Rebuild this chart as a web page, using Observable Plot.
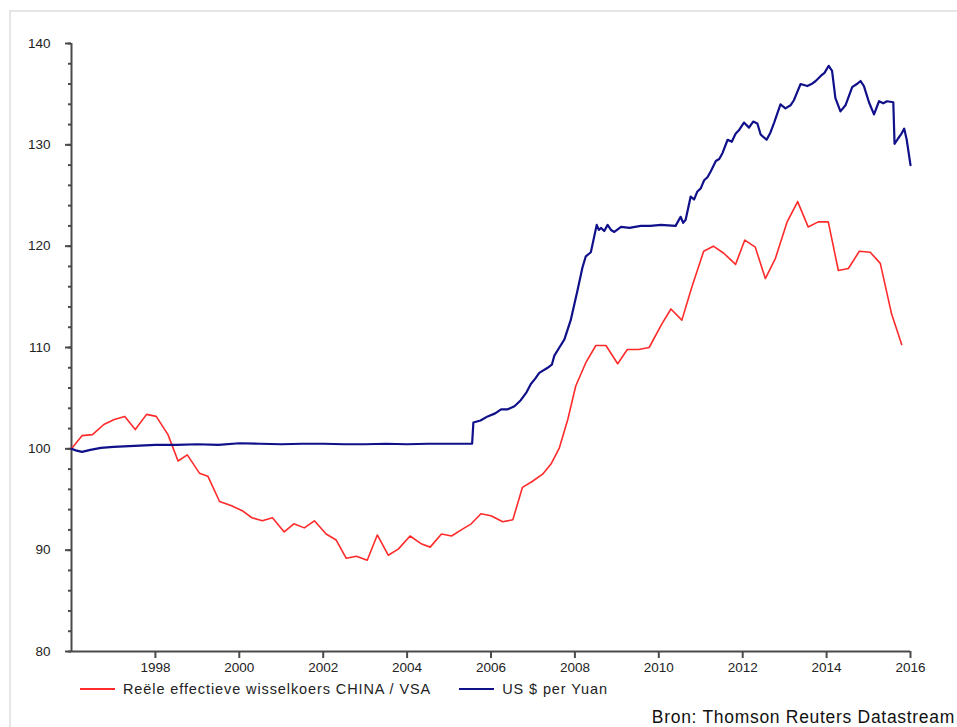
<!DOCTYPE html>
<html>
<head>
<meta charset="utf-8">
<script src="https://cdn.jsdelivr.net/npm/d3@7"></script>
<script src="https://cdn.jsdelivr.net/npm/@observablehq/plot@0.6"></script>
<style>
  html, body { margin: 0; padding: 0; background: #fff; }
  body { width: 957px; height: 727px; position: relative; overflow: hidden; font-family: "Liberation Sans", Arial, sans-serif; }
  #frame { position: absolute; left: 9px; top: 10px; width: 960px; height: 730px; border-top: 2px solid #e6e6e6; border-left: 2px solid #e6e6e6; box-sizing: border-box; }
  #chart { position: absolute; left: 0; top: 0; }
  #legend { position: absolute; top: 681px; left: 80px; font-size: 14.5px; letter-spacing: 0.9px; color: #222; display: flex; align-items: center; white-space: nowrap; }
  .sw { display: inline-block; width: 35px; height: 2px; margin-right: 8px; }
  .item { display: flex; align-items: center; margin-right: 28px; }
  #source { position: absolute; top: 707px; right: 2px; font-size: 17.5px; letter-spacing: 0.7px; color: #111; white-space: nowrap; }
</style>
</head>
<body>
<div id="frame"></div>
<div id="chart"></div>
<div id="legend"></div>
<div id="source">Bron: Thomson Reuters Datastream</div>
<script>
// Series names
const seriesNames = ["Reële effectieve wisselkoers CHINA / VSA", "US $ per Yuan"];
const seriesColors = ["#ff2a2a", "#10108a"];

// Real effective exchange rate China / USA (decimal year, index)
const redYears = [1996.0,1996.25,1996.5,1996.77,1997.02,1997.27,1997.52,1997.79,1998.02,1998.3,1998.54,1998.76,1999.05,1999.25,1999.53,1999.8,2000.07,2000.3,2000.55,2000.79,2001.07,2001.3,2001.55,2001.79,2002.07,2002.31,2002.55,2002.79,2003.05,2003.29,2003.55,2003.79,2004.07,2004.35,2004.55,2004.82,2005.06,2005.29,2005.53,2005.76,2006.0,2006.28,2006.52,2006.75,2006.99,2007.23,2007.43,2007.63,2007.83,2008.02,2008.26,2008.5,2008.74,2009.02,2009.25,2009.52,2009.77,2010.07,2010.29,2010.55,2010.79,2011.07,2011.3,2011.55,2011.83,2012.05,2012.3,2012.54,2012.78,2013.06,2013.31,2013.56,2013.8,2014.04,2014.28,2014.52,2014.78,2015.04,2015.28,2015.55,2015.79];
const redValues = [100.0,101.3,101.4,102.4,102.9,103.2,101.9,103.4,103.2,101.4,98.8,99.4,97.6,97.3,94.8,94.4,93.9,93.2,92.9,93.2,91.8,92.6,92.2,92.9,91.6,91.0,89.2,89.4,89.0,91.5,89.5,90.1,91.4,90.6,90.3,91.6,91.4,92.0,92.6,93.6,93.4,92.8,93.0,96.2,96.8,97.5,98.5,100.1,102.9,106.2,108.5,110.2,110.2,108.4,109.8,109.8,110.0,112.3,113.8,112.7,116.0,119.5,120.0,119.3,118.2,120.6,119.9,116.8,118.8,122.4,124.4,121.9,122.4,122.4,117.6,117.8,119.5,119.4,118.3,113.3,110.3];

// US $ per Yuan (index)
const blueYears = [1996.0,1996.1,1996.25,1996.45,1996.7,1997.0,1997.5,1998.0,1998.5,1999.0,1999.5,2000.0,2000.5,2001.0,2001.5,2002.0,2002.5,2003.0,2003.5,2004.0,2004.5,2005.0,2005.3,2005.55,2005.58,2005.75,2005.92,2006.1,2006.24,2006.4,2006.56,2006.71,2006.85,2006.95,2007.05,2007.15,2007.35,2007.45,2007.51,2007.63,2007.75,2007.9,2008.06,2008.18,2008.26,2008.38,2008.52,2008.57,2008.62,2008.7,2008.78,2008.86,2008.94,2009.1,2009.3,2009.57,2009.8,2010.05,2010.4,2010.52,2010.58,2010.64,2010.76,2010.84,2010.92,2011.0,2011.08,2011.16,2011.24,2011.36,2011.44,2011.52,2011.64,2011.74,2011.83,2011.92,2012.03,2012.15,2012.25,2012.35,2012.43,2012.57,2012.66,2012.75,2012.9,2013.02,2013.14,2013.22,2013.3,2013.38,2013.54,2013.64,2013.74,2013.86,2013.95,2014.05,2014.13,2014.21,2014.33,2014.45,2014.61,2014.72,2014.81,2014.89,2015.01,2015.13,2015.25,2015.35,2015.44,2015.59,2015.62,2015.7,2015.77,2015.85,2015.91,2016.0];
const blueValues = [100.0,99.85,99.7,99.9,100.1,100.2,100.3,100.4,100.4,100.45,100.4,100.55,100.5,100.45,100.5,100.5,100.45,100.45,100.5,100.45,100.5,100.5,100.5,100.5,102.6,102.8,103.2,103.5,103.9,103.9,104.2,104.8,105.6,106.4,106.9,107.5,108.0,108.3,109.2,110.0,110.8,112.7,115.6,117.9,119.0,119.4,122.1,121.6,121.8,121.5,122.1,121.6,121.4,121.9,121.8,122.0,122.0,122.1,122.0,122.9,122.3,122.6,124.9,124.6,125.4,125.7,126.5,126.8,127.4,128.4,128.6,129.2,130.5,130.3,131.1,131.5,132.2,131.7,132.3,132.1,131.0,130.5,131.2,132.2,134.0,133.6,133.9,134.4,135.2,136.0,135.8,136.0,136.3,136.8,137.1,137.8,137.3,134.6,133.3,133.9,135.7,136.0,136.3,135.8,134.2,133.0,134.3,134.1,134.3,134.2,130.1,130.6,131.0,131.6,130.5,128.0];

// Axis ticks
const xTicks = [1998,2000,2002,2004,2006,2008,2010,2012,2014,2016];
const yTicks = [80,90,100,110,120,130,140];
const yMinorTicks = d3.range(80, 141, 2);

const red = redYears.map((x, i) => ({x, y: redValues[i]}));
const blue = blueYears.map((x, i) => ({x, y: blueValues[i]}));

const axisColor = "#4a4a4a";
const chart = Plot.plot({
  width: 957,
  height: 680,
  marginLeft: 71,
  marginRight: 47,
  marginTop: 43,
  marginBottom: 29,
  style: {fontFamily: "Liberation Sans, Arial, sans-serif", fontSize: "13.5px", color: "#222", background: "transparent"},
  x: {domain: [1996, 2016]},
  y: {domain: [80, 140]},
  marks: [
    Plot.axisY(yMinorTicks, {tickSize: 3, text: null, stroke: axisColor, strokeWidth: 2, strokeOpacity: 1, label: null}),
    Plot.axisY(yTicks, {tickSize: 6, tickPadding: 15, stroke: axisColor, strokeWidth: 2, strokeOpacity: 1, label: null, fill: "#222"}),
    Plot.axisX(xTicks, {tickSize: 7, tickPadding: 4, stroke: axisColor, strokeWidth: 2, strokeOpacity: 1, label: null, tickFormat: d => String(d), fill: "#222"}),
    Plot.ruleX([1996], {y1: 80, y2: 140, stroke: axisColor, strokeWidth: 2}),
    Plot.ruleY([80], {x1: 1996, x2: 2016, stroke: axisColor, strokeWidth: 2}),
    Plot.line(red, {x: "x", y: "y", stroke: seriesColors[0], strokeWidth: 1.6}),
    Plot.line(blue, {x: "x", y: "y", stroke: seriesColors[1], strokeWidth: 2.2})
  ]
});
document.getElementById("chart").appendChild(chart);

const legend = document.getElementById("legend");
seriesNames.forEach((name, i) => {
  const item = document.createElement("span");
  item.className = "item";
  const sw = document.createElement("span");
  sw.className = "sw";
  sw.style.background = seriesColors[i];
  item.appendChild(sw);
  item.appendChild(document.createTextNode(name));
  legend.appendChild(item);
});
</script>
</body>
</html>
